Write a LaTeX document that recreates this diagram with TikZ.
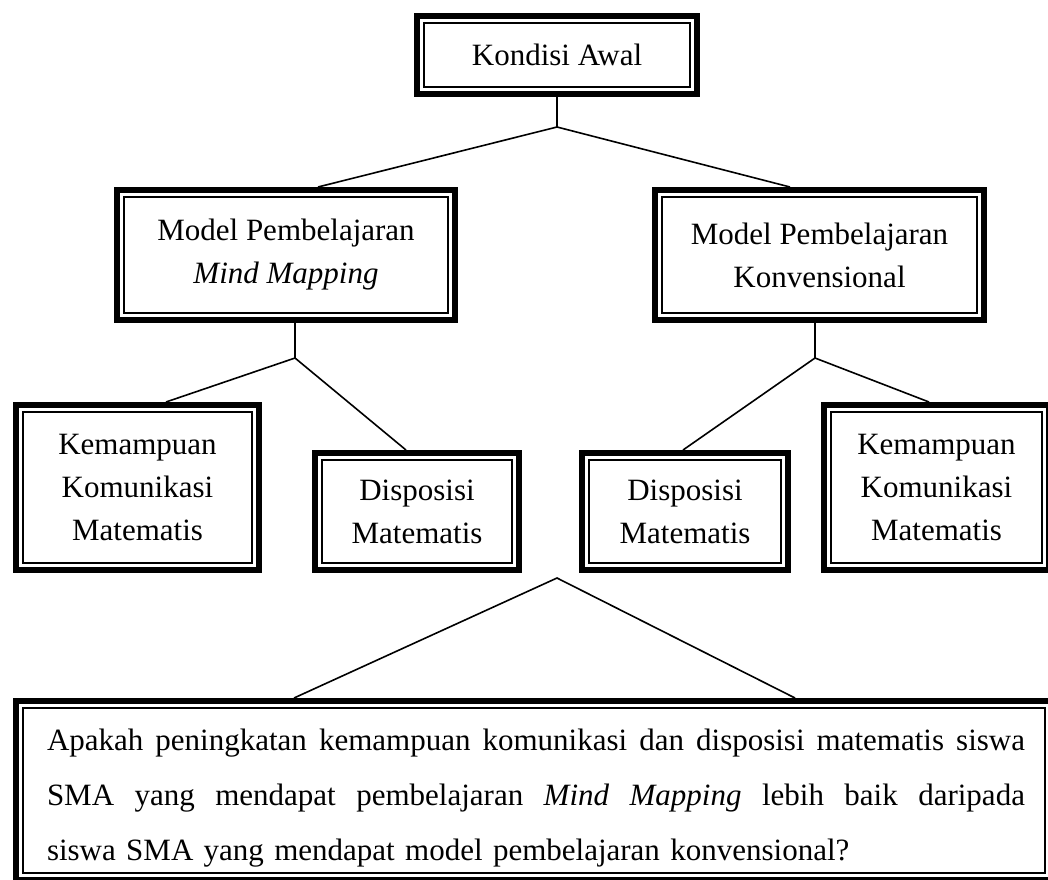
\documentclass[tikz,border=0pt]{standalone}
\usepackage{fontspec}
\setmainfont{Liberation Serif}
\usetikzlibrary{calc}
\tikzset{
  txt/.style={inner sep=0pt, outer sep=0pt, align=center, font=\fontsize{31}{43}\selectfont},
  outerline/.style={line width=6pt},
  innerline/.style={line width=2pt},
  conn/.style={line width=1.6pt},
}
\newcommand\DBox[6]{%
  \node[txt, minimum width=#4pt, minimum height=#5pt] (#1) at (#2,#3) {#6};
  \draw[outerline] ([xshift=3pt,yshift=-3pt]#1.north west) rectangle ([xshift=-3pt,yshift=3pt]#1.south east);
  \draw[innerline] ([xshift=10pt,yshift=-10pt]#1.north west) rectangle ([xshift=-10pt,yshift=10pt]#1.south east);
}
\newcommand\JLine[1]{\makebox[978pt][s]{\spaceskip=7.75pt plus 1fil\xspaceskip=7.75pt plus 1fil #1}}
\begin{document}
\begin{tikzpicture}[x=1pt,y=-1pt]
\useasboundingbox (0,0) rectangle (1048,879);
\clip (0,0) rectangle (1048,879);

\DBox{ka}{557}{55}{286}{84}{Kondisi Awal}
\DBox{mm}{286}{255}{344}{136}{Model Pembelajaran\\\textit{Mind Mapping}}
\DBox{kv}{819.5}{255}{335}{136}{Model Pembelajaran\\Konvensional}
\DBox{kl}{137.5}{487.5}{249}{171}{Kemampuan\\Komunikasi\\Matematis}
\DBox{dl}{417}{511.5}{210}{123}{Disposisi\\Matematis}
\DBox{dr}{685}{511.5}{212}{123}{Disposisi\\Matematis}
\DBox{kr}{936.5}{487.5}{231}{171}{Kemampuan\\Komunikasi\\Matematis}
\DBox{q}{534}{790.5}{1042}{185}{}

\node[txt, align=left, text width=978pt, font=\fontsize{31}{55}\selectfont] (qt) at (536,798) {%
\JLine{Apakah peningkatan kemampuan komunikasi dan disposisi matematis siswa}\\
\JLine{SMA yang mendapat pembelajaran \textit{Mind Mapping} lebih baik daripada}\\
siswa SMA yang mendapat model pembelajaran konvensional?};

\coordinate (j0) at (557,127);
\coordinate (j1) at (295,358);
\coordinate (j2) at (815,358);
\coordinate (apex) at (557,578);

\draw[conn] (ka.south) -- (j0);
\draw[conn] (j0) -- ([xshift=32pt]mm.north);
\draw[conn] (j0) -- ([xshift=-29.5pt]kv.north);

\draw[conn] ([xshift=9pt]mm.south) -- (j1);
\draw[conn] (j1) -- ([xshift=28.5pt]kl.north);
\draw[conn] (j1) -- ([xshift=-11pt]dl.north);

\draw[conn] ([xshift=-4.5pt]kv.south) -- (j2);
\draw[conn] (j2) -- ([xshift=-2pt]dr.north);
\draw[conn] (j2) -- ([xshift=-7.5pt]kr.north);

\draw[conn] ([xshift=-240pt]q.north) -- (apex) -- ([xshift=261pt]q.north);
\end{tikzpicture}
\end{document}
